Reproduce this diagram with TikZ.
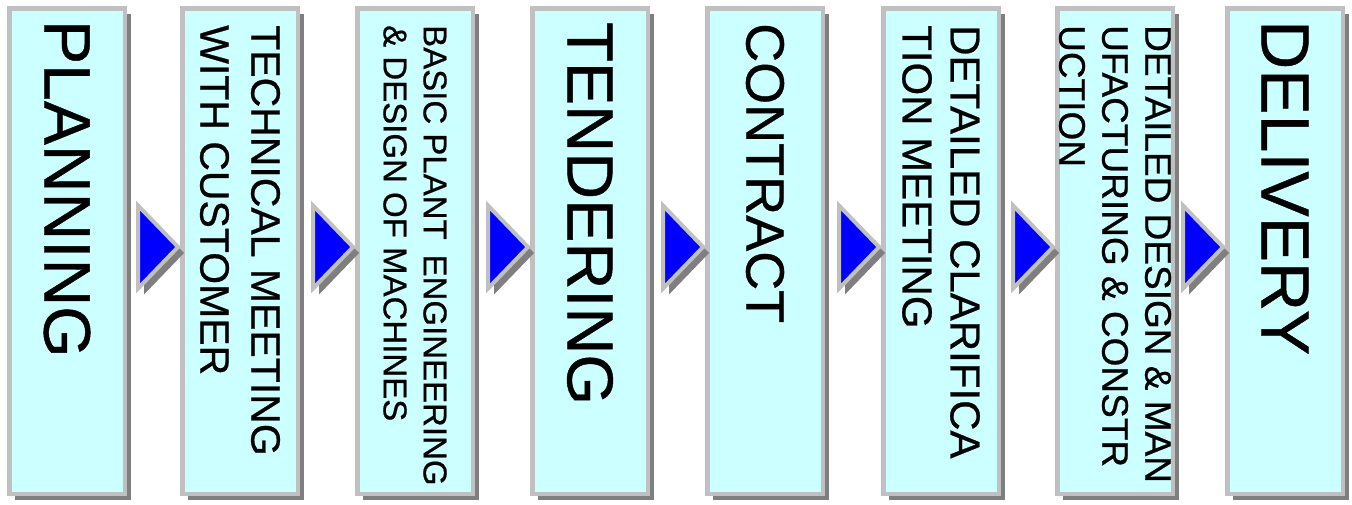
\documentclass[tikz,border=0pt]{standalone}
\usepackage{fontspec}
\setmainfont{Liberation Sans}
\newfontfamily\stagefont[FakeBold=0.6]{Liberation Sans}
\usetikzlibrary{shadows}
\definecolor{boxfill}{HTML}{CCFFFF}
\definecolor{rimgray}{HTML}{C0C0C0}
\definecolor{shadegray}{HTML}{7F7F7F}
\begin{document}
\begin{tikzpicture}[x=1pt,y=-1pt,
    stage/.style={draw=rimgray,line width=4.5pt,fill=boxfill,inner sep=0pt,
      minimum width=115.5pt,minimum height=485.5pt,
      drop shadow={shadow xshift=6pt,shadow yshift=-6pt,fill=shadegray,opacity=1}},
    word/.style={rotate=-90,anchor=west,align=left,inner sep=0pt},
    big/.style={word,font=\stagefont\fontsize{#1}{#1}\selectfont},
    small/.style 2 args={word,font=\stagefont\fontsize{#1}{#2}\selectfont},
    marker/.style={fill=blue,draw=rimgray,line width=4pt}]
  \useasboundingbox (0,0) rectangle (1352,504);
  % the eight stages
  \foreach \n/\l in {1/7,2/180,3/355,4/530,5/705,6/881,7/1055,8/1225}
    \node[stage] (s\n) at (\l+60,251) {};
  \node[big=66] (t1) at ([yshift=-14pt]s1.north) {PLANNING};
  \node[small={41}{51}] (t2) at ([yshift=-19pt]s2.north) {TECHNICAL MEETING\\WITH CUSTOMER};
  \node[small={33}{40}] (t3) at ([yshift=-19pt]s3.north) {BASIC PLANT\hspace{.45em}ENGINEERING\\\& DESIGN OF MACHINES};
  \node[big=65] (t4) at ([yshift=-16pt]s4.north) {TENDERING};
  \node[big=54] (t5) at ([yshift=-17pt]s5.north) {CONTRACT};
  \node[small={42}{48}] (t6) at ([yshift=-19pt]s6.north) {DETAILED CLARIFICA\\TION MEETING};
  \node[small={37}{43}] (t7) at ([yshift=-19pt]s7.north) {DETAILED DESIGN \& MAN\\UFACTURING \& CONSTR\\UCTION};
  \node[big=68] (t8) at ([yshift=-14pt]s8.north) {DELIVERY};
  % blue markers in front of each next stage
  \foreach \b in {2,...,8}{
    \coordinate (tip) at ([xshift=-2pt,yshift=4pt]s\b.west);
    \fill[shadegray] ([xshift=6pt,yshift=-6pt]tip) -- ++(-40,-41.5) -- ++(0,83) -- cycle;
    \filldraw[marker] (tip) -- ++(-40,-41.5) -- ++(0,83) -- cycle;
  }
\end{tikzpicture}
\end{document}
